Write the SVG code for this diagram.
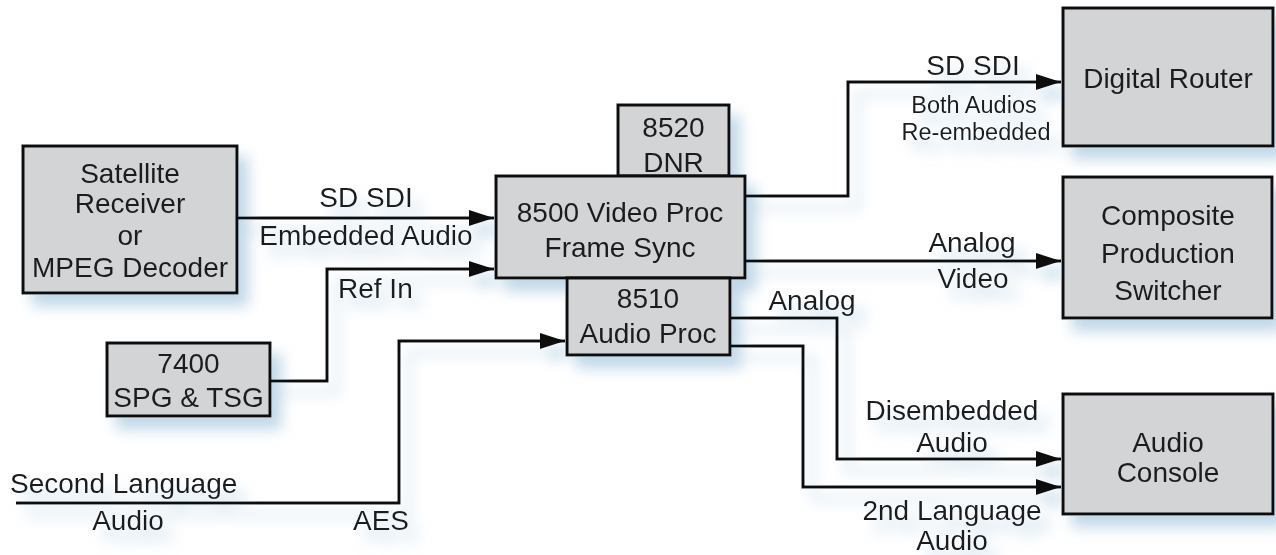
<svg xmlns="http://www.w3.org/2000/svg" width="1276" height="555" viewBox="0 0 1276 555">
  <defs>
    <filter id="glow" x="-10%" y="-10%" width="130%" height="130%">
      <feGaussianBlur in="SourceAlpha" stdDeviation="7" result="b"/>
      <feOffset in="b" dx="10" dy="12" result="o"/>
      <feFlood flood-color="#a7c8de" flood-opacity="0.7"/>
      <feComposite in2="o" operator="in" result="s"/>
      <feMerge>
        <feMergeNode in="s"/>
        <feMergeNode in="SourceGraphic"/>
      </feMerge>
    </filter>
    <marker id="arrow" markerUnits="userSpaceOnUse" markerWidth="26" markerHeight="16" refX="25" refY="8" orient="auto">
      <path d="M0,0 L25,8 L0,16 Z" fill="#111"/>
    </marker>
  </defs>
  <style>
    .box { fill: #d3d4d6; stroke: #111; stroke-width: 3; }
    .t { font-family: "Liberation Sans", Arial, sans-serif; font-size: 28px; fill: #1f1f1f; text-anchor: middle; }
    .s { font-size: 23.5px; }
    .st { text-anchor: start; }
    .wire { fill: none; stroke: #111; stroke-width: 3; }
  </style>
  <rect width="1276" height="555" fill="#fff"/>
  <g filter="url(#glow)">
    <g id="connectors">
      <path class="wire" d="M237,218 H494" marker-end="url(#arrow)"/>
      <path class="wire" d="M270,381 H327 V269 H494" marker-end="url(#arrow)"/>
      <path class="wire" d="M16,503 H399 V341 H565" marker-end="url(#arrow)"/>
      <path class="wire" d="M745,196 H848 V82 H1061" marker-end="url(#arrow)"/>
      <path class="wire" d="M745,261 H1061" marker-end="url(#arrow)"/>
      <path class="wire" d="M730,318 H837 V459 H1061" marker-end="url(#arrow)"/>
      <path class="wire" d="M730,346 H803 V487 H1061" marker-end="url(#arrow)"/>
      <text class="t" x="366" y="207">SD SDI</text>
      <text class="t" x="366" y="245">Embedded Audio</text>
      <text class="t st" x="338" y="298">Ref In</text>
      <text class="t st" x="10" y="493">Second Language</text>
      <text class="t" x="128" y="530">Audio</text>
      <text class="t st" x="353" y="530">AES</text>
      <text class="t" x="973" y="75">SD SDI</text>
      <text class="t s" x="974" y="113">Both Audios</text>
      <text class="t s" x="976" y="140">Re-embedded</text>
      <text class="t" x="972" y="252">Analog</text>
      <text class="t" x="973" y="288">Video</text>
      <text class="t" x="812" y="310">Analog</text>
      <text class="t" x="952" y="420">Disembedded</text>
      <text class="t" x="952" y="452">Audio</text>
      <text class="t" x="952" y="520">2nd Language</text>
      <text class="t" x="952" y="550">Audio</text>
    </g>
    <g id="satellite">
      <rect class="box" x="23" y="146" width="214" height="147"/>
      <text class="t" x="130" y="183">Satellite</text>
      <text class="t" x="130" y="213">Receiver</text>
      <text class="t" x="130" y="245">or</text>
      <text class="t" x="130" y="277">MPEG Decoder</text>
    </g>
    <g id="spg7400">
      <rect class="box" x="107" y="343" width="163" height="73"/>
      <text class="t" x="188.5" y="373">7400</text>
      <text class="t" x="188.5" y="407">SPG &amp; TSG</text>
    </g>
    <g id="dnr8520">
      <rect class="box" x="618" y="105" width="111" height="71"/>
      <text class="t" x="673.5" y="137">8520</text>
      <text class="t" x="673.5" y="172">DNR</text>
    </g>
    <g id="video8500">
      <rect class="box" x="496" y="176" width="249" height="102"/>
      <text class="t" x="620" y="222">8500 Video Proc</text>
      <text class="t" x="620" y="257">Frame Sync</text>
    </g>
    <g id="audio8510">
      <rect class="box" x="567" y="278" width="163" height="77"/>
      <text class="t" x="648" y="308">8510</text>
      <text class="t" x="648" y="343">Audio Proc</text>
    </g>
    <g id="router">
      <rect class="box" x="1063" y="8" width="210" height="138"/>
      <text class="t" x="1168" y="88">Digital Router</text>
    </g>
    <g id="switcher">
      <rect class="box" x="1063" y="177" width="209" height="141"/>
      <text class="t" x="1168" y="225">Composite</text>
      <text class="t" x="1168" y="263">Production</text>
      <text class="t" x="1168" y="300">Switcher</text>
    </g>
    <g id="console">
      <rect class="box" x="1063" y="394" width="210" height="120"/>
      <text class="t" x="1168" y="452">Audio</text>
      <text class="t" x="1168" y="482">Console</text>
    </g>
  </g>
</svg>
